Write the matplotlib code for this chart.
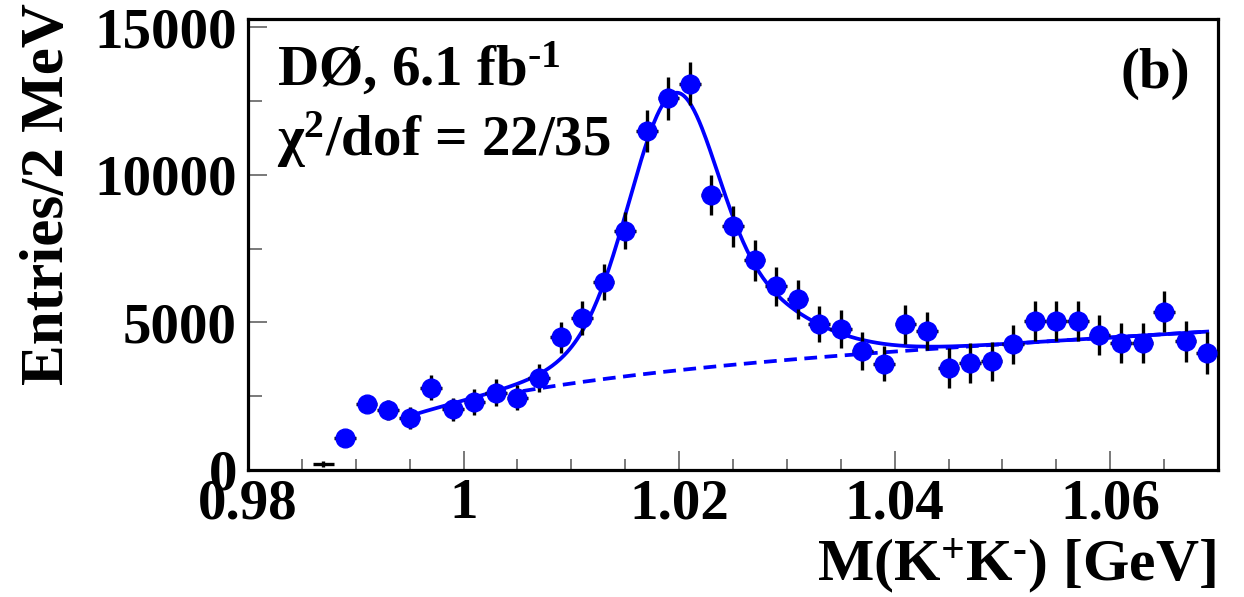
import numpy as np
import matplotlib
matplotlib.use("Agg")
import matplotlib.pyplot as plt
from matplotlib.ticker import MultipleLocator, FuncFormatter

# K+K- invariant mass spectrum, 2 MeV bins
mass_centers = [0.987, 0.989, 0.991, 0.993, 0.995, 0.997, 0.999, 1.001, 1.003, 1.005,
                1.007, 1.009, 1.011, 1.013, 1.015, 1.017, 1.019, 1.021, 1.023, 1.025,
                1.027, 1.029, 1.031, 1.033, 1.035, 1.037, 1.039, 1.041, 1.043, 1.045,
                1.047, 1.049, 1.051, 1.053, 1.055, 1.057, 1.059, 1.061, 1.063, 1.065,
                1.067, 1.069]
entries = [200, 1100, 2230, 2030, 1760, 2790, 2060, 2300, 2620, 2450,
           3120, 4500, 5150, 6370, 8110, 11490, 12600, 13080, 9330, 8250,
           7100, 6220, 5780, 4950, 4790, 4040, 3600, 4930, 4700, 3450,
           3620, 3680, 4260, 5040, 5040, 5040, 4560, 4290, 4290, 5370,
           4360, 3960]
errors = [100, 220, 280, 330, 370, 420, 390, 450, 450, 420,
          480, 530, 560, 600, 620, 700, 730, 730, 680, 700,
          680, 660, 650, 620, 640, 640, 590, 650, 640, 680,
          680, 660, 660, 680, 680, 680, 680, 680, 680, 710,
          690, 700]
bin_half_width = 0.001

# fit result: phi signal (bifurcated double gaussian) + threshold background
fit_range = (0.9953, 1.069)
bkg_dash_start = 1.0055
m_kaon = 0.493677
phi_mass = 1.0197
phi_amp = 9410
left_shape = (0.0042, 0.0080, 0.15)    # core sigma, wide sigma, wide fraction
right_shape = (0.0036, 0.0085, 0.40)
bkg_coef = (28853, -135457, 710336)


def background(x):
    q = np.sqrt(np.clip(x**2 / 4 - m_kaon**2, 0, None))
    t = x - 1.0
    return q * (bkg_coef[0] + bkg_coef[1] * t + bkg_coef[2] * t**2)


def signal(x):
    d = x - phi_mass
    out = np.zeros_like(x)
    for mask, (s1, s2, f) in [(d < 0, left_shape), (d >= 0, right_shape)]:
        dd = d[mask]
        out[mask] = (1 - f) * np.exp(-dd**2 / (2 * s1**2)) + f * np.exp(-dd**2 / (2 * s2**2))
    return phi_amp * out


plt.rcParams["font.family"] = "Liberation Serif"
plt.rcParams["font.weight"] = "bold"
plt.rcParams["mathtext.fontset"] = "custom"
plt.rcParams["mathtext.rm"] = "Liberation Serif:bold"
plt.rcParams["mathtext.it"] = "Liberation Serif:bold"
plt.rcParams["mathtext.bf"] = "Liberation Serif:bold"
plt.rcParams["mathtext.default"] = "rm"

W, H = 1244, 597
fig = plt.figure(figsize=(W / 100, H / 100), dpi=100)
ax = fig.add_axes([248 / W, 1 - 470 / H, (1218 - 248) / W, (470 - 19) / H])

blue = "#0000ff"
fs = 41

x = np.array(mass_centers)
y = np.array(entries)
e = np.array(errors)

xf = np.linspace(fit_range[0], fit_range[1], 600)
xb = np.linspace(bkg_dash_start, fit_range[1], 400)
ax.plot(xb, background(xb), color=blue, lw=2.7, ls=(0, (3.4, 2.0)), zorder=2)
ax.plot(xf, background(xf) + signal(xf), color=blue, lw=2.7, zorder=3)

# first bin: cross only
ax.errorbar(x[:1], y[:1], yerr=e[:1], xerr=bin_half_width, fmt="none",
            ecolor="black", elinewidth=2.4, capsize=0, zorder=4)
ax.errorbar(x[1:], y[1:], yerr=e[1:], xerr=bin_half_width, fmt="o",
            color=blue, ms=13.5, mec=blue, ecolor="black",
            elinewidth=2.4, capsize=0, zorder=4)

ax.set_xlim(0.98, 1.07)
ax.set_ylim(0, 15280)

ax.xaxis.set_major_locator(MultipleLocator(0.02))
ax.xaxis.set_minor_locator(MultipleLocator(0.005))
ax.yaxis.set_major_locator(MultipleLocator(5000))
ax.yaxis.set_minor_locator(MultipleLocator(2500))
ax.xaxis.set_major_formatter(FuncFormatter(lambda v, p: f"{v:g}"))
ax.yaxis.set_major_formatter(FuncFormatter(lambda v, p: f"{v:.0f}"))

ax.tick_params(axis="both", which="both", direction="in", top=False, right=False,
               width=1.1, color="#555555", labelsize=fs)
ax.tick_params(axis="x", which="major", length=14, pad=6)
ax.tick_params(axis="x", which="minor", length=8)
ax.tick_params(axis="y", which="major", length=14, pad=8)
ax.tick_params(axis="y", which="minor", length=10)
for lab in ax.get_xticklabels() + ax.get_yticklabels():
    lab.set_fontweight("bold")
for sp in ax.spines.values():
    sp.set_linewidth(2.3)

fig.text(48 / W, 1 - 3 / H, "Entries/2 MeV", rotation=90, ha="center", va="top",
         fontsize=fs + 3, fontweight="bold")
xlabel = r"M(K$^{+}$K$^{\text{-}}$) [GeV]"
fig.text(1216 / W, 1 - 596 / H, xlabel, ha="right", va="bottom",
         fontsize=fs + 2, fontweight="bold")
# tail of the label from the panel above
fig.text(1216 / W, 1 - 3 / H, xlabel, ha="right", va="bottom",
         fontsize=fs + 2, fontweight="bold")

fig.text(277 / W, 1 - 86 / H, r"DØ, 6.1 fb$^{\text{-1}}$", ha="left", va="baseline",
         fontsize=fs, fontweight="bold")
fig.text(277 / W, 1 - 156 / H, r"χ$^{2}$/dof = 22/35", ha="left", va="baseline",
         fontsize=fs, fontweight="bold")
fig.text(1190 / W, 1 - 88 / H, "(b)", ha="right", va="baseline",
         fontsize=fs, fontweight="bold")

fig.savefig("out.png", dpi=100)
